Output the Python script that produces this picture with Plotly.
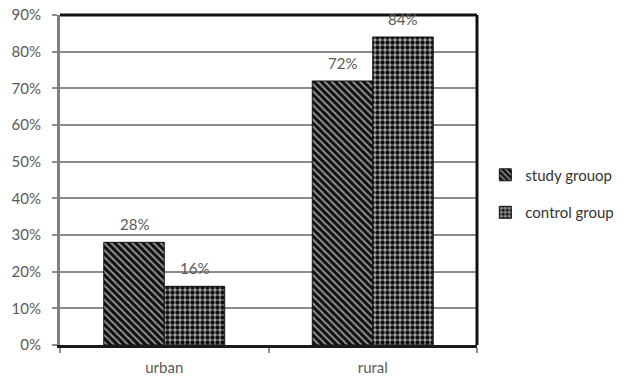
import plotly.graph_objects as go

categories = ["urban", "rural"]
study_group = [0.28, 0.72]
control_group = [0.16, 0.84]
series_names = ["study grouop", "control group"]
y_ticks = [0, 0.1, 0.2, 0.3, 0.4, 0.5, 0.6, 0.7, 0.8, 0.9]

label_font = dict(family="Lato, Carlito, sans-serif", size=15, color="#5a5a5a")

fig = go.Figure()
fig.add_trace(go.Bar(
    x=categories, y=study_group, name=series_names[0], legendgroup="a",
    marker=dict(
        color="#111111",
        line=dict(color="#111111", width=1),
        pattern=dict(shape="\\", fgcolor="#9a9a9a", bgcolor="#111111",
                     size=5, solidity=0.35, fillmode="replace"),
    ),
))
fig.add_trace(go.Bar(
    x=categories, y=control_group, name=series_names[1], legendgroup="b",
    marker=dict(
        color="#a8a8a8",
        line=dict(color="#111111", width=1),
        pattern=dict(shape=".", fgcolor="#111111", bgcolor="#a8a8a8",
                     size=5, solidity=0.6, fillmode="replace"),
    ),
))

# value labels above each bar
for i, cat in enumerate(categories):
    for val, shift in ((study_group[i], -0.5), (control_group[i], 0.5)):
        fig.add_annotation(
            x=cat, y=val, xref="x", yref="y", xshift=shift * 60,
            yshift=18, text=f"{round(val * 100)}%", showarrow=False,
            font=label_font,
        )

# black frame on top and right
fig.add_shape(type="line", xref="paper", yref="paper", x0=0, x1=1, y0=1, y1=1,
              line=dict(color="#111111", width=3))
fig.add_shape(type="line", xref="paper", yref="paper", x0=1, x1=1, y0=0, y1=1,
              line=dict(color="#111111", width=3))

fig.update_layout(
    width=624, height=380,
    margin=dict(l=60, r=147, t=15, b=35, autoexpand=False),
    paper_bgcolor="white", plot_bgcolor="white",
    barmode="group", bargap=0.42, bargroupgap=0,
    font=label_font,
    showlegend=True,
    legend=dict(
        x=1.02, y=0.565, xanchor="left", yanchor="top",
        font=dict(family="Lato, Carlito, sans-serif", size=15, color="#333333"),
        tracegroupgap=15, itemwidth=30, bgcolor="rgba(0,0,0,0)",
    ),
    xaxis=dict(
        showline=True, linecolor="#1a1a1a", linewidth=2.5,
        ticks="outside", tickson="boundaries", ticklen=5, tickcolor="#8c8c8c",
        tickwidth=2, ticklabelstandoff=7, tickfont=label_font,
        showgrid=False,
    ),
    yaxis=dict(
        range=[0, 0.9], tickvals=y_ticks, tickformat=".0%",
        showline=True, linecolor="#7f7f7f", linewidth=3,
        ticks="outside", ticklen=5, tickcolor="#8c8c8c", tickwidth=2,
        ticklabelstandoff=8, tickfont=label_font,
        showgrid=True, gridcolor="#8c8c8c", gridwidth=2,
        zeroline=False,
    ),
)

fig.write_html("out.html")
